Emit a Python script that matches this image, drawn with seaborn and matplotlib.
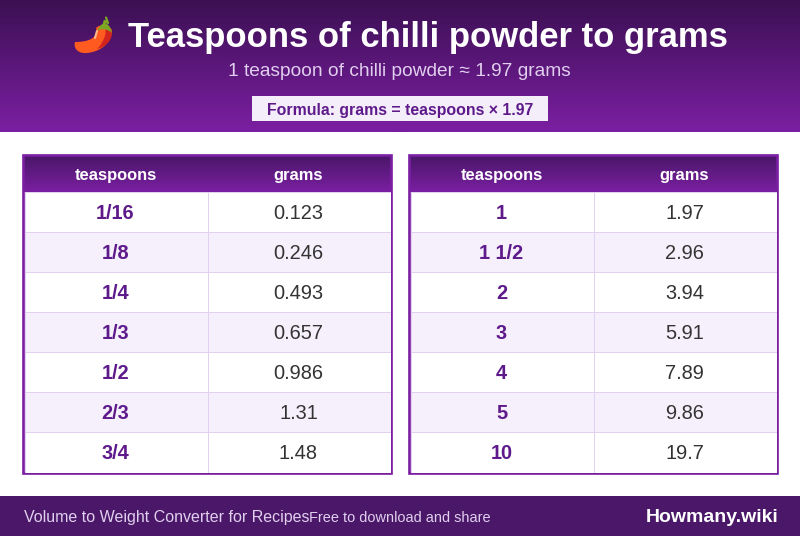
import numpy as np
import pandas as pd
import seaborn as sns
import matplotlib.pyplot as plt
from matplotlib.colors import LinearSegmentedColormap, ListedColormap
from matplotlib.patches import PathPatch, Rectangle
from matplotlib.path import Path

# table data
left_teaspoons = ['1/16', '1/8', '1/4', '1/3', '1/2', '2/3', '3/4']
left_grams = ['0.123', '0.246', '0.493', '0.657', '0.986', '1.31', '1.48']
right_teaspoons = ['1', '1 1/2', '2', '3', '4', '5', '10']
right_grams = ['1.97', '2.96', '3.94', '5.91', '7.89', '9.86', '19.7']
columns = ['teaspoons', 'grams']

title = 'Teaspoons of chilli powder to grams'
subtitle = '1 teaspoon of chilli powder ≈ 1.97 grams'
formula = 'Formula: grams = teaspoons × 1.97'
footer_left = 'Volume to Weight Converter for Recipes'
footer_mid = 'Free to download and share'
footer_right = 'Howmany.wiki'

DARK = '#3c1053'
MID = '#4a1769'
PURPLE = '#7b1fa2'
INK = '#5e1a8a'
W, H = 800, 536

sns.set_theme(style='white')
plt.rcParams['font.family'] = ['Liberation Sans', 'DejaVu Sans']

fig = plt.figure(figsize=(W / 100, H / 100), dpi=100, facecolor='white')

# whole figure axes, measured in pixels
bg = fig.add_axes([0, 0, 1, 1])
bg.set_xlim(0, W)
bg.set_ylim(H, 0)
bg.axis('off')

ramp = np.linspace(0, 1, 64).reshape(-1, 1)


def gradient(x0, x1, y0, y1, top):
    grad = LinearSegmentedColormap.from_list('head', [top, PURPLE])
    bg.imshow(ramp, cmap=grad, extent=(x0, x1, y1, y0), aspect='auto', zorder=2.5)
    bg.set_xlim(0, W)
    bg.set_ylim(H, 0)


gradient(0, W, 0, 132, DARK)

bg.text(427.5, 33.5, title, color='white', fontsize=24.9, fontweight='bold',
        ha='center', va='center_baseline', zorder=3)
bg.text(399, 70, subtitle, color='#e1cfee', fontsize=13.8, ha='center',
        va='center_baseline', zorder=3)
bg.add_patch(Rectangle((252, 96), 296, 25, color='#f4eefa', lw=0, zorder=2.8))
bg.text(400, 108.5, formula, color=INK, fontsize=11.4, fontweight='bold',
        ha='center', va='center_baseline', zorder=3)


# chilli icon, no colour emoji font is available
def shape(verts, color):
    codes = [Path.MOVETO] + [Path.CURVE4] * (len(verts) - 1)
    bg.add_patch(PathPatch(Path(verts, codes), fc=color, ec='none', zorder=3))


shape([(96, 28), (99, 38), (88, 42), (75, 42),
       (73, 49), (79, 54), (87, 53),
       (100, 52), (112, 43), (112, 30),
       (108, 24), (100, 24), (96, 28)], '#ff5a1f')
shape([(105, 27), (107, 33), (104, 42), (97, 49),
       (106, 47), (113, 40), (112, 30),
       (110, 27), (107, 26), (105, 27)], '#d3231e')
shape([(97, 31), (100, 25), (103, 23), (105, 23),
       (108, 24), (111, 27), (112, 33),
       (108, 29), (102, 28), (97, 31)], '#7da625')
bg.plot([104, 104.5, 108, 106], [24, 21, 23, 17.5], color='#7da625', lw=1.6,
        solid_capstyle='round', zorder=3)
bg.plot([97, 95], [31, 38], color='#ffb98a', lw=1.5, solid_capstyle='round', zorder=4)

# footer
bg.add_patch(Rectangle((0, 496), W, 40, color=MID, lw=0, zorder=1))
bg.text(24, 516, footer_left, color='#e1cfee', fontsize=11.5, va='center_baseline', zorder=3)
bg.text(309, 516, footer_mid, color='#e1cfee', fontsize=10.45, va='center_baseline', zorder=3)
bg.text(778.5, 515, footer_right, color='white', fontsize=14, fontweight='bold',
        ha='right', va='center_baseline', zorder=3)

stripes = ListedColormap(['white', '#f5f0fc'])
nudge_x = 0.7 / 183  # text sits a little left of the cell centre
nudge_y = 1 / 40  # and one pixel low


def draw_table(x0, teaspoons, grams):
    # header band and outer border sit on the pixel axes
    gradient(x0 + 2, x0 + 369, 156, 192, MID)
    bg.add_patch(Rectangle((x0 + 1.33, 155.33), 368, 318, fc='none', ec=PURPLE, lw=1.92, zorder=6))

    ax = fig.add_axes([(x0 + 2.67) / W, 1 - 472.5 / H, 366 / W, 280.5 / H], zorder=5)
    ax.patch.set_alpha(0)
    table = pd.DataFrame({columns[0]: teaspoons, columns[1]: grams})
    bands = np.array([[i % 2, i % 2] for i in range(len(table))])
    sns.heatmap(bands, ax=ax, cmap=stripes, vmin=0, vmax=1, cbar=False,
                annot=table.values, fmt='', linewidths=0.72, linecolor='#e1d0f0',
                annot_kws={'fontsize': 14.4, 'color': '#333333'},
                xticklabels=columns, yticklabels=False)
    for cell in ax.texts:
        x, y = cell.get_position()
        cell.set_position((x - nudge_x, y + nudge_y))
    for cell in ax.texts[::2]:
        cell.set_color(INK)
        cell.set_fontweight('bold')
    ax.xaxis.tick_top()
    ax.set_xticks([0.5 - nudge_x, 1.5 - nudge_x], labels=columns)
    ax.tick_params(axis='x', length=0, pad=6.2, labelsize=11.9, labelcolor='white')
    for label in ax.get_xticklabels():
        label.set_fontweight('bold')
        label.set_rotation(0)
    return ax


draw_table(22, left_teaspoons, left_grams)
draw_table(408, right_teaspoons, right_grams)

fig.savefig('out.png', dpi=100)
